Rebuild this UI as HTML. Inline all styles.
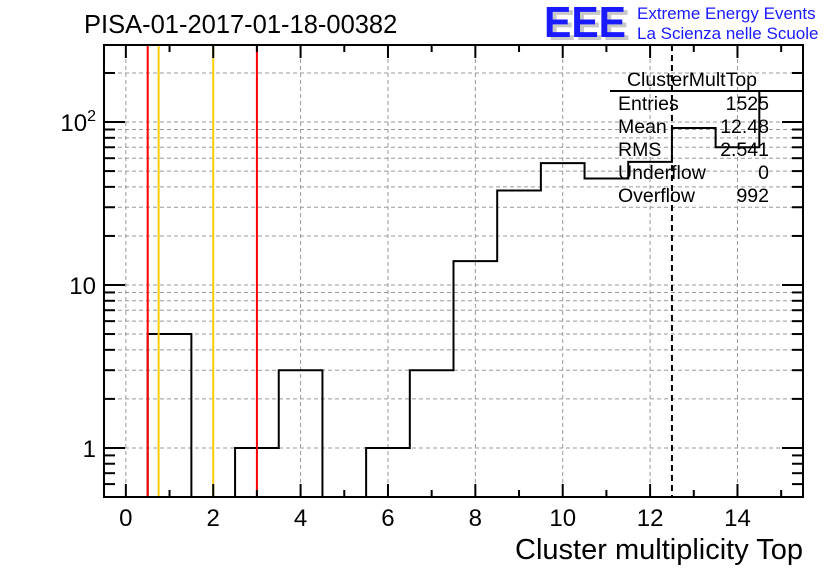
<!DOCTYPE html>
<html><head><meta charset="utf-8"><style>
body{margin:0;background:#fff;width:836px;height:572px;overflow:hidden;font-family:"Liberation Sans",sans-serif}
svg text{font-family:"Liberation Sans",sans-serif}
</style></head><body>
<svg id="chart" width="836" height="572">
<text x="84" y="33" font-size="25.5">PISA-01-2017-01-18-00382</text>
<g>
<text x="548" y="40" font-size="44" font-weight="bold" fill="#c8c8c8" textLength="82" lengthAdjust="spacingAndGlyphs">EEE</text>
<text x="544" y="37" font-size="44" font-weight="bold" fill="#1a1aff" textLength="82" lengthAdjust="spacingAndGlyphs">EEE</text>
<text x="637" y="19" font-size="17" fill="#1a1aff">Extreme Energy Events</text>
<text x="637" y="39" font-size="17" fill="#1a1aff">La Scienza nelle Scuole</text>
</g>
<g id="grid"></g>
<g id="marks"></g>
<g id="axes"></g>
<g font-size="19.5">
<line x1="610" y1="91" x2="803" y2="91" stroke="#000" stroke-width="2"/>
<text x="692" y="86" text-anchor="middle">ClusterMultTop</text>
<text x="618" y="110">Entries</text><text x="769" y="110" text-anchor="end">1525</text>
<text x="618" y="133">Mean</text><text x="769" y="133" text-anchor="end">12.48</text>
<text x="618" y="156">RMS</text><text x="769" y="156" text-anchor="end">2.541</text>
<text x="618" y="179">Underflow</text><text x="769" y="179" text-anchor="end">0</text>
<text x="618" y="202">Overflow</text><text x="769" y="202" text-anchor="end">992</text>
</g>
<text x="803" y="559" font-size="29" text-anchor="end">Cluster multiplicity Top</text>
</svg>
<script>
const binCenters=[0,1,2,3,4,5,6,7,8,9,10,11,12,13,14,15];
const counts=[0,5,0,1,3,0,1,3,14,38,56,45,57,92,70,155];
const xTicks=[0,2,4,6,8,10,12,14];
const yTickVals=[1,10,100];
const yTickLabels=["1","10","10²"];
const redLines=[0.5,3.0];
const orangeLines=[0.75,2.0];
const meanLine=[12.5];
const L=104,R=803,T=45,B=497,X0=-0.5,X1=15.5,Y0=0.5,Y1=297;
const NS="http://www.w3.org/2000/svg";
const xs=v=>L+(v-X0)/(X1-X0)*(R-L);
const ys=v=>B-(Math.log10(v)-Math.log10(Y0))/(Math.log10(Y1)-Math.log10(Y0))*(B-T);
function mk(p,t,a){const e=document.createElementNS(NS,t);for(const k in a)e.setAttribute(k,a[k]);p.appendChild(e);return e;}
const grid=document.getElementById('grid'),marks=document.getElementById('marks'),axes=document.getElementById('axes');
xTicks.forEach(v=>{const l=mk(grid,'line',{x1:xs(v),x2:xs(v),y1:T,y2:B,stroke:'#999','stroke-dasharray':'4,3'});

});
for(let d=0;d<=2;d++)for(let m=1;m<=9;m++){const v=m*Math.pow(10,d);if(v<Y0||v>Y1)continue;
const l=mk(grid,'line',{x1:L,x2:R,y1:ys(v),y2:ys(v),stroke:'#999','stroke-dasharray':'4,3'});

}
let d='';
binCenters.forEach((c,i)=>{const v=counts[i]>0?counts[i]:Y0;const x0=xs(c-0.5),x1=Math.min(xs(c+0.5),R);
const y=ys(Math.min(v,Y1));d+=(i===0?'M'+x0+','+ys(Y0):'')+'L'+x0+','+y+'L'+x1+','+y;});
const h=mk(marks,'path',{d:d,fill:'none',stroke:'#000','stroke-width':2});


redLines.forEach(v=>{const l=mk(marks,'line',{x1:xs(v),x2:xs(v),y1:T,y2:B,stroke:'#ff0000','stroke-width':2});

});
orangeLines.forEach(v=>{const l=mk(marks,'line',{x1:xs(v),x2:xs(v),y1:T,y2:B,stroke:'#ffcc00','stroke-width':2});

});
meanLine.forEach(v=>{const l=mk(marks,'line',{x1:xs(v),x2:xs(v),y1:T,y2:B,stroke:'#000','stroke-width':2,'stroke-dasharray':'6,4'});

});
const f=mk(axes,'rect',{x:L,y:T,width:R-L,height:B-T,fill:'none',stroke:'#000','stroke-width':2});


for(let v=0;v<=15;v++){const len=v%2===0?13:7;const x=xs(v);
mk(axes,'line',{x1:x,x2:x,y1:B,y2:B-len,stroke:'#000','stroke-width':2});
mk(axes,'line',{x1:x,x2:x,y1:T,y2:T+len,stroke:'#000','stroke-width':2});}
xTicks.forEach(v=>{const t=mk(axes,'text',{x:xs(v),y:526,'font-size':24,'text-anchor':'middle'});t.textContent=v;

});
for(let dd=-1;dd<=2;dd++)for(let m=1;m<=9;m++){const v=m*Math.pow(10,dd);if(v<Y0||v>Y1)continue;const len=m===1?21:11;const y=ys(v);
mk(axes,'line',{x1:L,x2:L+len,y1:y,y2:y,stroke:'#000','stroke-width':2});
mk(axes,'line',{x1:R,x2:R-len,y1:y,y2:y,stroke:'#000','stroke-width':2});}
yTickVals.forEach((v,i)=>{const t=mk(axes,'text',{x:96,y:ys(v)+9,'font-size':24,'text-anchor':'end'});
if(i===2){t.innerHTML='10<tspan dy="-10" font-size="16">2</tspan>';}else t.textContent=yTickLabels[i];

});
</script>
</body></html>
